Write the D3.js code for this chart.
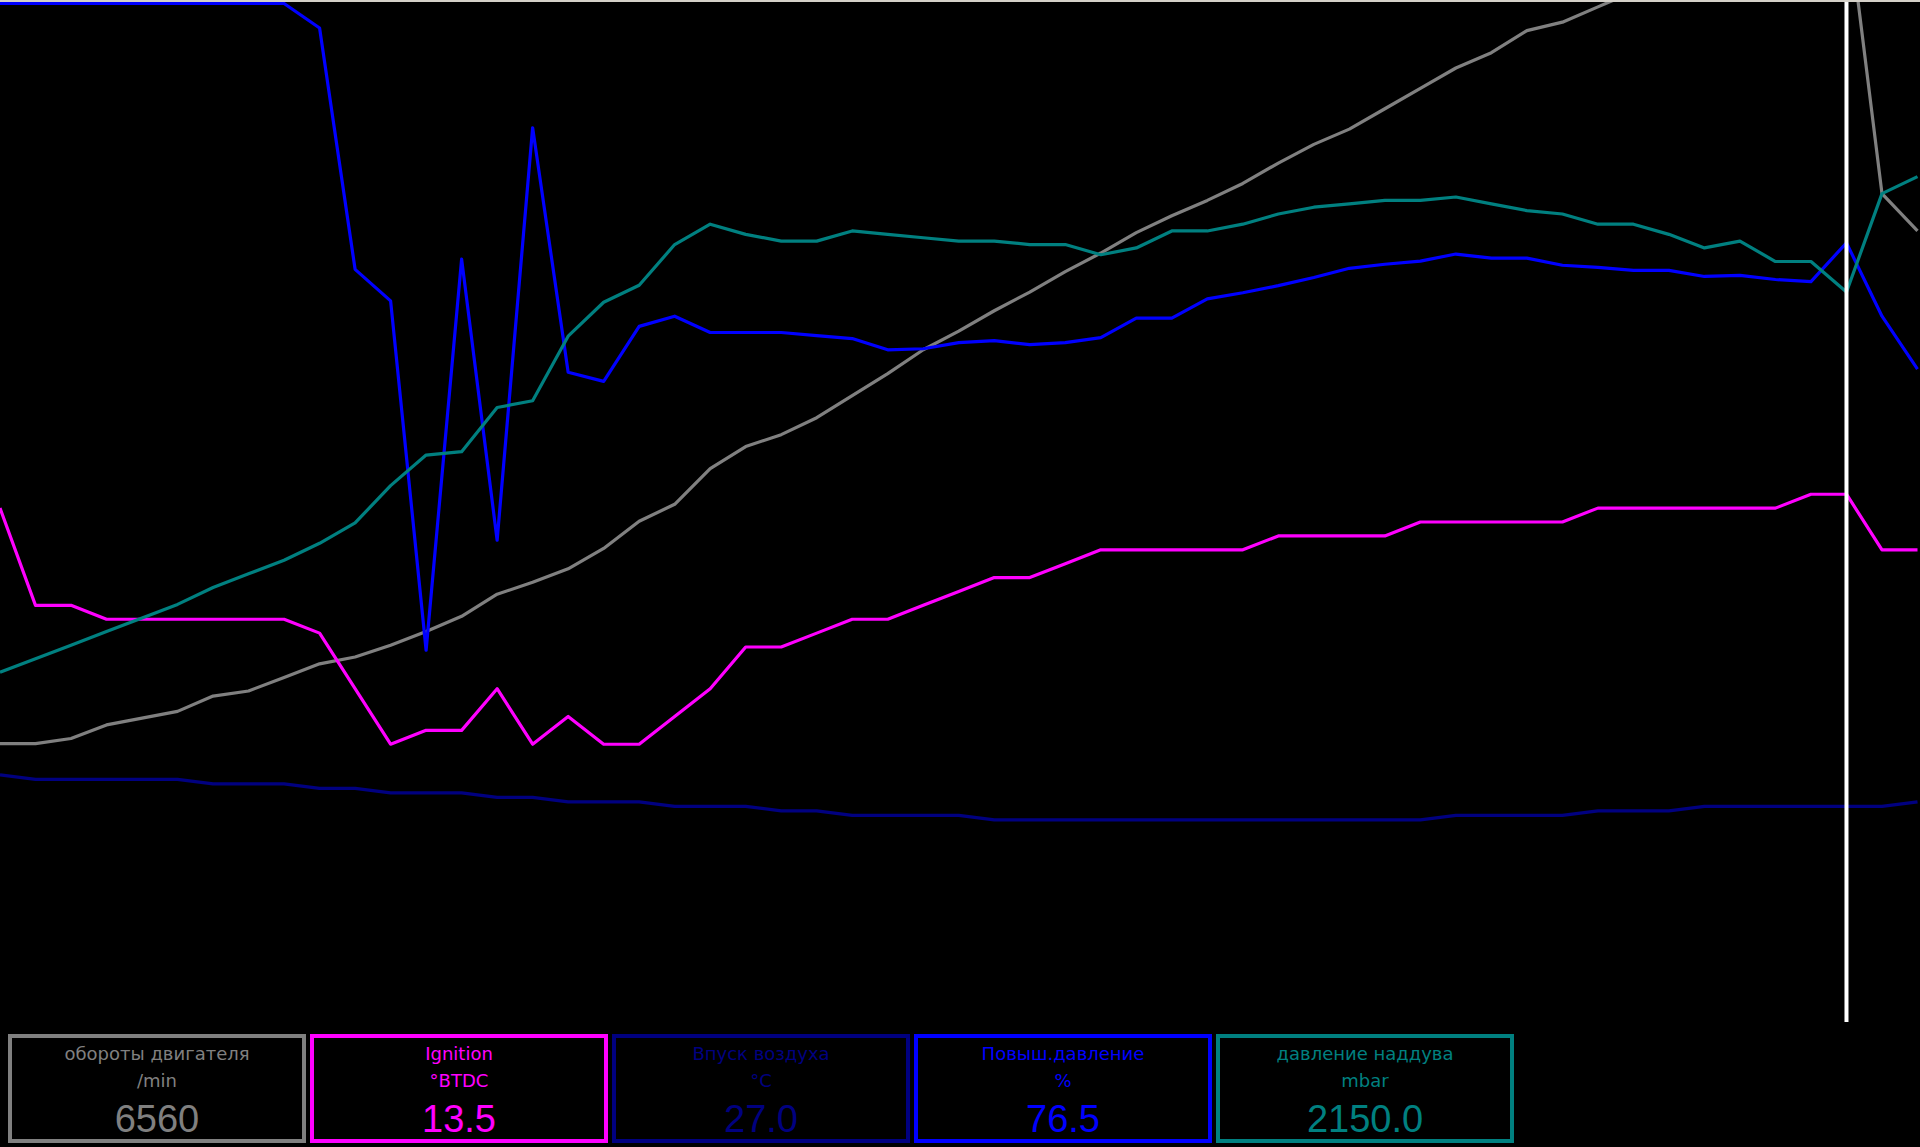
<!DOCTYPE html>
<html>
<head>
<meta charset="utf-8">
<script src="https://cdn.jsdelivr.net/npm/d3@7"></script>
<style>
    html, body { margin: 0; padding: 0; background: #000; overflow: hidden; }
    svg { display: block; }
</style>
</head>
<body>
<div id="chart"></div>
<script>
const channelNames = ['обороты двигателя', 'Ignition', 'Впуск воздуха', 'Повыш.давление', 'давление наддува'];
const channelUnits = ['/min', '°BTDC', '°C', '%', 'mbar'];

const engineSpeed = [1640, 1640, 1670, 1750, 1790, 1830, 1920, 1950, 2030, 2110, 2150, 2220, 2300, 2390, 2520,
    2590, 2670, 2790, 2950, 3050, 3260, 3390, 3460, 3560, 3690, 3820, 3960, 4070, 4190, 4300, 4420, 4530, 4650,
    4750, 4840, 4940, 5060, 5170, 5260, 5380, 5500, 5620, 5710, 5840, 5890, 5980, 6070, 6160, 6250, 6340, 6420,
    6490, 6560, 4880, 4660];

const ignitionAngle = [12.75, 7.5, 7.5, 6.75, 6.75, 6.75, 6.75, 6.75, 6.75, 6.0, 3.0, 0, 0.75, 0.75, 3.0, 0, 1.5,
    0, 0, 1.5, 3.0, 5.25, 5.25, 6.0, 6.75, 6.75, 7.5, 8.25, 9.0, 9.0, 9.75, 10.5, 10.5, 10.5, 10.5, 10.5, 11.25,
    11.25, 11.25, 11.25, 12.0, 12.0, 12.0, 12.0, 12.0, 12.75, 12.75, 12.75, 12.75, 12.75, 12.75, 13.5, 13.5, 10.5,
    10.5];

const intakeTemp = [32.25, 31.5, 31.5, 31.5, 31.5, 31.5, 30.75, 30.75, 30.75, 30.0, 30.0, 29.25, 29.25, 29.25,
    28.5, 28.5, 27.75, 27.75, 27.75, 27.0, 27.0, 27.0, 26.25, 26.25, 25.5, 25.5, 25.5, 25.5, 24.75, 24.75, 24.75,
    24.75, 24.75, 24.75, 24.75, 24.75, 24.75, 24.75, 24.75, 24.75, 24.75, 25.5, 25.5, 25.5, 25.5, 26.25, 26.25,
    26.25, 27.0, 27.0, 27.0, 27.0, 27.0, 27.0, 27.75];

const boostDuty = [100, 100, 100, 100, 100, 100, 100, 100, 100, 97.6, 73.9, 70.8, 36.5, 74.9, 47.3, 87.8, 63.8,
    62.9, 68.3, 69.3, 67.7, 67.7, 67.7, 67.4, 67.1, 66.0, 66.1, 66.7, 66.9, 66.5, 66.7, 67.2, 69.1, 69.1, 71.0,
    71.6, 72.3, 73.1, 74.0, 74.4, 74.7, 75.4, 75.0, 75.0, 74.3, 74.1, 73.8, 73.8, 73.2, 73.3, 72.9, 72.7, 76.5,
    69.3, 64.1];

const boostPressure = [1030, 1070, 1110, 1150, 1190, 1230, 1280, 1320, 1360, 1410, 1470, 1580, 1670, 1680, 1810,
    1830, 2020, 2120, 2170, 2290, 2350, 2320, 2300, 2300, 2330, 2320, 2310, 2300, 2300, 2290, 2290, 2260, 2280,
    2330, 2330, 2350, 2380, 2400, 2410, 2420, 2420, 2430, 2410, 2390, 2380, 2350, 2350, 2320, 2280, 2300, 2240,
    2240, 2150, 2440, 2490];

// sample the cursor sits on
const cursorSample = 52;

const width = 1920;
const height = 1147;

// Each channel gets its own vertical scale, like the logger does
const channels = [
    { name: channelNames[0], unit: channelUnits[0], values: engineSpeed,   domain: [0, 6000],  color: '#808080', digits: 0 },
    { name: channelNames[1], unit: channelUnits[1], values: ignitionAngle, domain: [-15, 40],  color: '#ff00ff', digits: 1 },
    { name: channelNames[2], unit: channelUnits[2], values: intakeTemp,    domain: [-9, 161],  color: '#000080', digits: 1 },
    { name: channelNames[3], unit: channelUnits[3], values: boostDuty,     domain: [0, 100],   color: '#0000ff', digits: 1 },
    { name: channelNames[4], unit: channelUnits[4], values: boostPressure, domain: [0, 3000],  color: '#008080', digits: 1 }
];

const plot = { top: 3.5, bottom: 1022 };

const svg = d3.select('#chart')
    .append('svg')
    .attr('width', width)
    .attr('height', height);

svg.append('rect')
    .attr('width', width)
    .attr('height', height)
    .attr('fill', '#000');

svg.append('defs')
    .append('clipPath')
    .attr('id', 'plot-clip')
    .append('rect')
    .attr('x', 0)
    .attr('y', 2)
    .attr('width', width)
    .attr('height', plot.bottom - 2);

// X: sample index, spaced evenly across the window
const xScale = d3.scaleLinear()
    .domain([0, engineSpeed.length - 1])
    .range([0, 1917.5]);

const lines = svg.append('g')
    .attr('clip-path', 'url(#plot-clip)');

channels.forEach(ch => {
    const yScale = d3.scaleLinear()
        .domain(ch.domain)
        .range([plot.bottom, plot.top]);

    const line = d3.line()
        .x((d, i) => xScale(i))
        .y(d => yScale(d));

    lines.append('path')
        .datum(ch.values)
        .attr('d', line)
        .attr('fill', 'none')
        .attr('stroke', ch.color)
        .attr('stroke-width', 3.2)
        .attr('stroke-linejoin', 'round');
});

// Cursor
svg.append('line')
    .attr('x1', xScale(cursorSample))
    .attr('x2', xScale(cursorSample))
    .attr('y1', 2)
    .attr('y2', plot.bottom)
    .attr('stroke', '#ffffff')
    .attr('stroke-width', 4);

// window frame line at the very top
svg.append('rect')
    .attr('x', 0)
    .attr('y', 0)
    .attr('width', width)
    .attr('height', 2)
    .attr('fill', '#d4d0c8');

// Readout boxes under the graph
const box = { left: 8, top: 1034, width: 298, height: 109, pitch: 302, border: 4 };

const boxes = svg.append('g')
    .selectAll('g')
    .data(channels)
    .enter()
    .append('g')
    .attr('transform', (d, i) => `translate(${box.left + i * box.pitch},${box.top})`);

boxes.append('rect')
    .attr('x', box.border / 2)
    .attr('y', box.border / 2)
    .attr('width', box.width - box.border)
    .attr('height', box.height - box.border)
    .attr('fill', '#000')
    .attr('stroke', d => d.color)
    .attr('stroke-width', box.border);

const textStyle = sel => sel
    .attr('x', box.width / 2)
    .attr('text-anchor', 'middle')
    .attr('fill', d => d.color);

boxes.append('text')
    .call(textStyle)
    .attr('y', 26)
    .style('font-family', '"DejaVu Sans", sans-serif')
    .style('font-size', '18px')
    .text(d => d.name);

boxes.append('text')
    .call(textStyle)
    .attr('y', 53)
    .style('font-family', '"DejaVu Sans", sans-serif')
    .style('font-size', '18px')
    .text(d => d.unit);

boxes.append('text')
    .call(textStyle)
    .attr('y', 98)
    .style('font-family', '"Liberation Sans", Arial, sans-serif')
    .style('font-size', '38px')
    .text(d => d.values[cursorSample].toFixed(d.digits));
</script>
</body>
</html>
